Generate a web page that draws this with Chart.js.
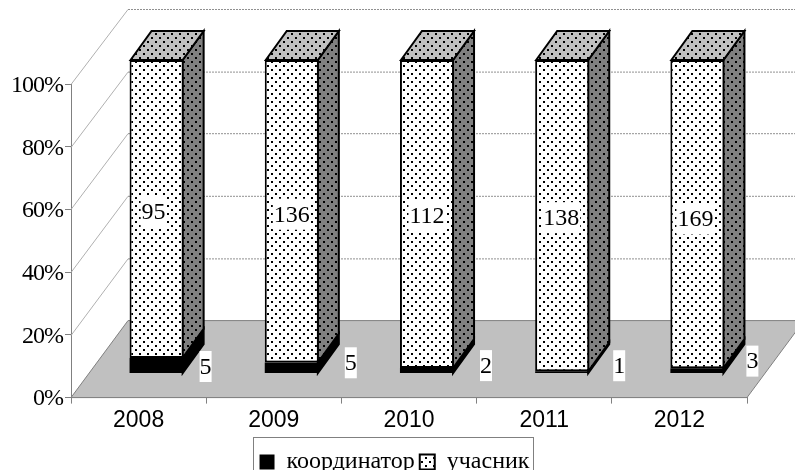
<!DOCTYPE html>
<html><head><meta charset="utf-8">
<style>html,body{margin:0;padding:0;background:#fff}canvas{display:block}</style>
<script src="https://cdn.jsdelivr.net/npm/chart.js@4"></script></head>
<body><div style="width:795px;height:470px"><canvas id="c" width="795" height="470"></canvas></div>
<script>
const years = ['2008','2009','2010','2011','2012'];
const coordinators = [5,5,2,1,3];
const participants = [95,136,112,138,169];
const yTickLabels = ['0%','20%','40%','60%','80%','100%'];
const seriesNames = ['координатор','учасник'];

function dots(base){
  const t=document.createElement('canvas');t.width=8;t.height=8;
  const g=t.getContext('2d');g.fillStyle=base;g.fillRect(0,0,8,8);
  g.fillStyle='#000';g.fillRect(1,1,2,2);g.fillRect(5,5,2,2);
  return g.createPattern(t,'repeat');
}
const ctx0=document.getElementById('c').getContext('2d');
const frontP=dots('#ffffff'),sideP=dots('#808080'),topP=dots('#c0c0c0');
const share=(a,i)=>a[i]/(coordinators[i]+participants[i])*100;

const scene={
  id:'scene',
  afterLayout(ch,_,o){
    const l=ch.legend,y=ch.scales.y;
    l.left+=o.legendShift[0];l.right+=o.legendShift[0];
    l.top+=o.legendShift[1];l.bottom+=o.legendShift[1];
    if(!y._tight){
      y._tight=true;
      const orig=y.drawLabels;
      y.drawLabels=function(a){
        const c=this.ctx;c.save();c.letterSpacing='-1px';c.translate(0,1.5);
        orig.call(this,a);c.restore();
      };
    }
  },
  beforeDatasetsDraw(ch,_,o){
    const c=ch.ctx,y=ch.scales.y,a=ch.chartArea;
    const dx=o.wall[0],dy0=o.wall[1],dy1=o.wall[2];
    c.save();
    c.beginPath();c.moveTo(a.left,a.bottom);c.lineTo(a.left+dx,a.bottom+dy0);
    c.lineTo(a.right+dx,a.bottom+dy0);c.lineTo(a.right,a.bottom);c.closePath();
    c.fillStyle='#c0c0c0';c.fill();c.strokeStyle='#808080';c.lineWidth=1;c.stroke();
    y.ticks.forEach(t=>{
      const py=Math.round(y.getPixelForValue(t.value))+.5;
      const dy=dy0+(dy1-dy0)*t.value/100;
      c.strokeStyle='#b0b0b0';c.setLineDash([]);c.lineWidth=1;
      if(t.value>0){c.beginPath();c.moveTo(a.left,py);c.lineTo(a.left+dx,py+dy);c.stroke();
      c.strokeStyle='#909090';c.setLineDash([2,1]);
      c.beginPath();c.moveTo(a.left+dx,py+dy);c.lineTo(a.right+dx,py+dy);c.stroke();}
    });
    c.setLineDash([]);
    const [bx,by]=o.barShift,[sx,sy]=o.side;
    c.translate(bx,by);c.lineWidth=2;c.lineJoin='miter';c.strokeStyle='#000';
    ch.data.datasets.forEach((d,di)=>{
      ch.getDatasetMeta(di).data.forEach(b=>{
        const L=b.x-b.width/2+1,R=b.x+b.width/2-1;
        c.beginPath();c.moveTo(R,b.base);c.lineTo(R+sx,b.base+sy);c.lineTo(R+sx,b.y+sy);c.lineTo(R,b.y);c.closePath();
        c.fillStyle=di===0?'#000':sideP;c.fill();c.stroke();
        if(di===ch.data.datasets.length-1){
          c.beginPath();c.moveTo(L,b.y);c.lineTo(L+sx,b.y+sy);c.lineTo(R+sx,b.y+sy);c.lineTo(R,b.y);c.closePath();
          c.fillStyle=topP;c.fill();c.stroke();
        }
      });
    });
    c.restore();
  },
  beforeDatasetDraw(ch,_,o){ch.ctx.save();ch.ctx.translate(o.barShift[0],o.barShift[1]);},
  afterDatasetDraw(ch){ch.ctx.restore();},
  afterDatasetsDraw(ch,_,o){
    const c=ch.ctx,[bx,by]=o.barShift;
    c.save();c.font=o.labelFont;c.textAlign='center';c.textBaseline='middle';
    [coordinators,participants].forEach((vals,di)=>{
      ch.getDatasetMeta(di).data.forEach((b,i)=>{
        const t=String(vals[i]),n=o.labelNudge[di][i];
        const px=b.x+bx+n[0],py=(b.y+b.base)/2+by+n[1];
        const w=c.measureText(t).width+(di?2:0),h=31;
        c.fillStyle='#fff';c.fillRect(px-w/2,py-h/2,w,h);
        c.fillStyle='#000';c.fillText(t,px,py+1);
      });
    });
    c.restore();
  },
  afterDraw(ch,_,o){
    const c=ch.ctx,f=o.legendFrame;
    c.save();c.strokeStyle='#808080';c.lineWidth=1;
    c.strokeRect(f[0]+.5,f[1]+.5,f[2],f[3]);
    c.restore();
  }
};

new Chart(ctx0,{
  type:'bar',
  plugins:[scene],
  data:{labels:years,datasets:[
    {label:seriesNames[0],data:years.map((_,i)=>share(coordinators,i)),backgroundColor:'#000',borderColor:'#000',borderWidth:0,inflateAmount:0},
    {label:seriesNames[1],data:years.map((_,i)=>share(participants,i)),backgroundColor:frontP,borderColor:'#000',borderWidth:2,borderSkipped:false}
  ]},
  options:{
    responsive:false,animation:false,
    layout:{padding:{left:0,top:84,right:48,bottom:0}},
    datasets:{bar:{categoryPercentage:0.4,barPercentage:1,clip:false}},
    scales:{
      x:{stacked:true,
        afterFit(s){s.height=33.4;},
        grid:{offset:true,drawOnChartArea:false,drawTicks:true,tickLength:6,color:'#808080'},
        border:{color:'#808080'},
        ticks:{color:'#000',font:{family:'"Liberation Sans"',size:23},padding:3,maxRotation:0}},
      y:{stacked:true,min:0,max:100,
        afterFit(s){s.width=71;},
        grid:{drawOnChartArea:false,drawTicks:true,tickLength:6,color:'#808080'},
        border:{color:'#808080'},
        ticks:{color:'#000',stepSize:20,padding:2,font:{family:'"Liberation Serif"',size:24},
          callback:(v,i)=>yTickLabels[i]}}
    },
    plugins:{
      title:{display:false},tooltip:{enabled:false},
      legend:{display:true,position:'bottom',
        labels:{color:'#000',boxWidth:15,boxHeight:15,padding:5,font:{family:'"Liberation Serif"',size:24}}},
      scene:{wall:[57,-77,-75],barShift:[18,-24],side:[21,-29],labelFont:'24px "Liberation Serif"',
        legendShift:[21,14],legendFrame:[253,437,280,40],
        labelNudge:[
          [[49,1],[59,-5],[59,-5],[57,-6.5],[55,-9.5]],
          [[-3,3],[0,3],[0,2],[-1,2],[-2,5]]
        ]}
    }
  }
});
</script></body></html>
